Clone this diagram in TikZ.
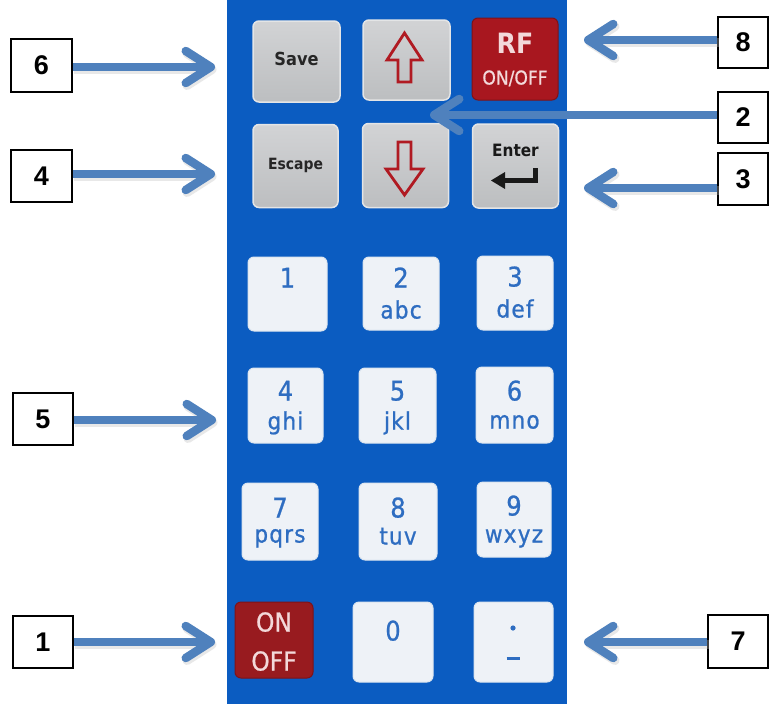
\documentclass[tikz,border=0pt]{standalone}
\usepackage{fontspec}
\setmainfont{Liberation Sans}
\newfontfamily\keyfont[FakeStretch=0.9,FakeBold=0.8]{DejaVu Sans}
\newfontfamily\keyfontb[FakeStretch=0.9]{DejaVu Sans}
\usetikzlibrary{arrows.meta,calc}
\definecolor{panel}{HTML}{0B5CC1}
\definecolor{arrowc}{HTML}{4F81BD}
\definecolor{greytop}{HTML}{D2D3D5}
\definecolor{greybot}{HTML}{BCBEC0}
\definecolor{greyedge}{HTML}{E4E5E6}
\definecolor{rfred}{HTML}{A8171F}
\definecolor{onred}{HTML}{981B1F}
\definecolor{rededge}{HTML}{7E1218}
\definecolor{whitekey}{HTML}{EEF2F7}
\definecolor{whiteedge}{HTML}{DCE5EF}
\definecolor{numblue}{HTML}{2E6DC1}
\definecolor{glyphred}{HTML}{B01A22}
\definecolor{pinkish}{HTML}{F3D9DA}
\tikzset{
  keybase/.style={rounded corners=6pt, inner sep=0pt},
  greyk/.style={keybase, draw=greyedge, line width=1.5pt, top color=greytop, bottom color=greybot},
  redk/.style={keybase, draw=rededge, line width=1pt},
  whitek/.style={keybase, fill=whitekey, draw=whiteedge, line width=1pt},
  lbl/.style={draw=black, line width=1.8pt, fill=white, inner sep=0pt,
    font=\bfseries\fontsize{27}{30}\selectfont},
  digitf/.style={text=numblue, inner sep=0pt, font=\keyfont\fontsize{27}{30}\selectfont},
  letf/.style={text=numblue, inner sep=0pt, font=\keyfont\fontsize{24}{27}\selectfont\addfontfeature{LetterSpace=5}},
  arr/.style={draw=arrowc, line width=8.5pt, -{Straight Barb[length=25pt,width=32pt,round]}},
  arrshadow/.style={draw=black!25, opacity=0.35, line width=9pt, -{Straight Barb[length=25pt,width=32pt,round]}},
}
\newcommand\numkey[9]{%
  \node[whitek, minimum width=#4pt, minimum height=#5pt] (#1) at (#2,#3) {};
  \node[digitf, anchor=base] (#1d) at ($(#1.north)+(0,#8)$) {#6};
  \node[letf, anchor=base] (#1l) at ($(#1.north)+(0,#9)$) {#7};
}
\begin{document}
\begin{tikzpicture}[x=1pt,y=-1pt]
\useasboundingbox (0,0) rectangle (770,704);
\fill[white] (0,0) rectangle (770,704);
% panel
\fill[panel] (227,0) rectangle (567,704);

% top grey keys
\node[greyk, minimum width=87pt, minimum height=81pt] (save) at (296.5,61.5) {};
\node[inner sep=0pt, anchor=base, font=\keyfontb\bfseries\fontsize{18}{20}\selectfont, text=black!85] (savet) at ($(save.north)+(0,45)$) {Save};
\node[greyk, minimum width=87pt, minimum height=80pt] (up) at (406.5,60) {};
\node[greyk, minimum width=85pt, minimum height=83pt] (esc) at (295.5,166) {};
\node[inner sep=0pt, anchor=base, font=\keyfontb\bfseries\fontsize{15.5}{17}\selectfont, text=black!85] (esct) at ($(esc.north)+(0,46)$) {Escape};
\node[greyk, minimum width=86pt, minimum height=84pt] (down) at (405.5,165.5) {};
\node[greyk, minimum width=86pt, minimum height=84pt] (enter) at (515.5,166) {};
\node[inner sep=0pt, anchor=base, font=\keyfontb\bfseries\fontsize{17}{19}\selectfont, text=black!90] (entert) at ($(enter.north)+(0,33)$) {Enter};
% RF key
\node[redk, fill=rfred, minimum width=86pt, minimum height=82pt] (rf) at (515,59) {};
\node[inner sep=0pt, anchor=base, text=pinkish, font=\keyfontb\bfseries\fontsize{28}{30}\selectfont] (rft) at ($(rf.north)+(0,36)$) {RF};
\node[inner sep=0pt, anchor=base, text=pinkish, font=\keyfont\fontsize{19}{21}\selectfont] (rfo) at ($(rf.north)+(0,67)$) {ON/OFF};

% up arrow glyph
\draw[glyphred, line width=2.8pt, line join=miter]
  (404.5,33) -- (422,60) -- (411,60) -- (411,82) -- (398,82) -- (398,60) -- (387,60) -- cycle;
% down arrow glyph
\draw[glyphred, line width=2.8pt, line join=miter]
  (404.5,195) -- (423,169) -- (411,169) -- (411,142) -- (398,142) -- (398,169) -- (386,169) -- cycle;
% enter symbol
\draw[black!90, line width=5pt, line cap=butt] (535.5,168) -- (535.5,180.5) -- (503,180.5);
\fill[black!90] (491,180.5) -- (505,172) -- (505,189) -- cycle;

% number keys
\numkey{k1}{287.5}{294}{79}{74}{1}{}{31}{62}
\numkey{k2}{401}{293.5}{76}{73}{2}{abc}{31}{62}
\numkey{k3}{515}{293}{76}{74}{3}{def}{31}{62}
\numkey{k4}{285.5}{405.5}{75}{75}{4}{ghi}{33}{62}
\numkey{k5}{397.5}{405.5}{77}{75}{5}{jkl}{33}{62}
\numkey{k6}{514.5}{405}{77}{76}{6}{mno}{34}{62}
\numkey{k7}{280}{521.5}{76}{77}{7}{pqrs}{35}{60}
\numkey{k8}{398}{521.5}{78}{77}{8}{tuv}{35}{62}
\numkey{k9}{514}{519.5}{74}{75}{9}{wxyz}{34}{61}
% bottom row
\node[redk, fill=onred, minimum width=78pt, minimum height=76pt] (onoff) at (274,640) {};
\node[inner sep=0pt, anchor=base, text=pinkish, font=\keyfont\fontsize{26}{28}\selectfont] (ont) at ($(onoff.north)+(0,30)$) {ON};
\node[inner sep=0pt, anchor=base, text=pinkish, font=\keyfont\fontsize{26}{28}\selectfont] (offt) at ($(onoff.north)+(0,69)$) {OFF};
\node[whitek, minimum width=80pt, minimum height=80pt] (k0) at (393,642) {};
\node[digitf, anchor=base] (k0d) at ($(k0.north)+(0,39)$) {0};
\node[whitek, minimum width=79pt, minimum height=80pt] (kdot) at (513.5,642) {};
\fill[numblue] (513,628) circle (2.6pt);
\draw[numblue, line width=3pt] (506.5,658) -- (519.5,658);

% label boxes
\node[lbl, minimum width=61pt, minimum height=53pt] (l6) at (41.5,65.5) {6};
\node[lbl, minimum width=61pt, minimum height=52pt] (l4) at (41.5,176) {4};
\node[lbl, minimum width=60pt, minimum height=52pt] (l5) at (43,419) {5};
\node[lbl, minimum width=60pt, minimum height=52pt] (l1) at (43,642) {1};
\node[lbl, minimum width=50pt, minimum height=51pt] (l8) at (743,42.5) {8};
\node[lbl, minimum width=50pt, minimum height=51pt] (l2) at (743,117.5) {2};
\node[lbl, minimum width=50pt, minimum height=52pt] (l3) at (743,179) {3};
\node[lbl, minimum width=60pt, minimum height=53pt] (l7) at (738,641.5) {7};

% arrow tips
\coordinate (t6) at (215,67);
\coordinate (t4) at (215,174);
\coordinate (t5) at (216,420);
\coordinate (t1) at (215,642);
\coordinate (t8) at (584,40);
\coordinate (t2) at (430,115);
\coordinate (t3) at (584,188);
\coordinate (t7) at (584,642);

% shadows
\begin{scope}[transform canvas={shift={(1.5pt,-2.5pt)}}]
\draw[arrshadow] (l6.east |- t6) -- (t6);
\draw[arrshadow] (l4.east |- t4) -- (t4);
\draw[arrshadow] (l5.east |- t5) -- (t5);
\draw[arrshadow] (l1.east |- t1) -- (t1);
\draw[arrshadow] (l8.west |- t8) -- (t8);
\draw[arrshadow] (l3.west |- t3) -- (t3);
\draw[arrshadow] (l7.west |- t7) -- (t7);
\end{scope}
% arrows
\draw[arr] (l6.east |- t6) -- (t6);
\draw[arr] (l4.east |- t4) -- (t4);
\draw[arr] (l5.east |- t5) -- (t5);
\draw[arr] (l1.east |- t1) -- (t1);
\draw[arr] (l8.west |- t8) -- (t8);
\draw[arr] (l2.west |- t2) -- (t2);
\draw[arr] (l3.west |- t3) -- (t3);
\draw[arr] (l7.west |- t7) -- (t7);
\end{tikzpicture}
\end{document}
